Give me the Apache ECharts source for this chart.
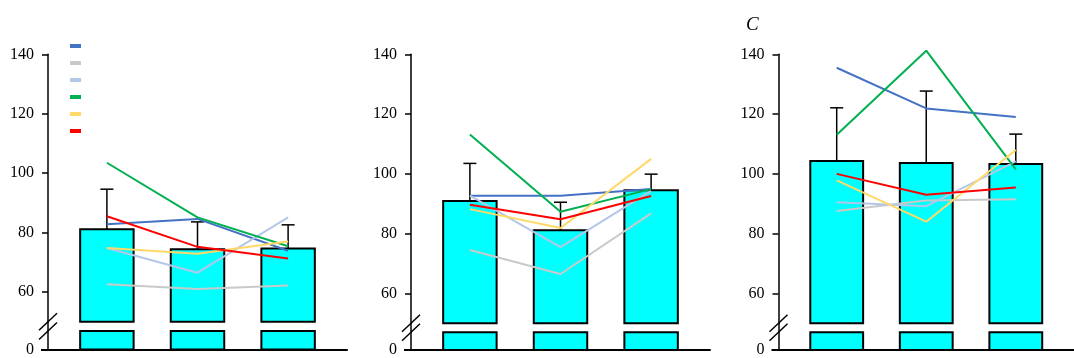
<!DOCTYPE html>
<html>
<head>
<meta charset="utf-8">
<script src="https://cdn.jsdelivr.net/npm/echarts@6/dist/echarts.min.js"></script>
<style>
  html, body { margin: 0; padding: 0; background: #fff; }
  #chart { width: 1074px; height: 358px; }
</style>
</head>
<body>
<div id="chart"></div>
<script>
// Tick labels: upper part of the broken axis, and the stub below the break
const upperTicks = [60, 80, 100, 120, 140];
const lowerTicks = [0];

// Three conditions per panel, placed at x = 0, 1, 2
const conditions = [0, 1, 2];

// Group means and SD (error bars), panels A, B, C
const meanA = [81.1, 74.4, 74.6];
const sdA   = [13.5, 9.2, 8.0];
const meanB = [90.9, 81.1, 94.5];
const sdB   = [12.6, 9.4, 5.4];
const meanC = [104.3, 103.6, 103.3];
const sdC   = [17.8, 24.1, 10.0];

// Individual subjects, one row per subject
const subjectNames  = ['S1', 'S2', 'S3', 'S4', 'S5', 'S6'];
const subjectColors = ['#4472C4', '#C9C9C9', '#B4C7E7', '#00B050', '#FFD966', '#FF0000'];
const subjectsA = [
  [82.8, 84.6, 73.9],
  [62.6, 61.0, 62.2],
  [74.8, 66.5, 85.1],
  [103.5, 85.1, 75.4],
  [74.8, 72.9, 77.0],
  [85.5, 75.2, 71.3]
];
const subjectsB = [
  [92.7, 92.7, 94.9],
  [74.5, 66.5, 86.8],
  [92.7, 75.5, 94.3],
  [113.2, 87.3, 94.9],
  [88.2, 81.9, 105.0],
  [89.7, 84.8, 92.6]
];
const subjectsC = [
  [135.5, 121.9, 119.0],
  [87.6, 91.1, 91.5],
  [90.5, 89.2, 104.2],
  [113.1, 141.2, 101.5],
  [97.8, 84.0, 108.0],
  [100.0, 93.0, 95.4]
];

// Axis break: upper part runs 50..140, the stub below runs 0..3 with bars to 2
const UPPER_MIN = 50, UPPER_MAX = 140;
const LOWER_MAX = 3, STUB = 2;
const X_MIN = -0.65, X_MAX = 2.65;
const BAR_W = 0.59;

const panels = [
  { mean: meanA, sd: sdA, subjects: subjectsA, left: 48,    top: 54.3, upperH: 267.4, lowerH: 27.8 },
  { mean: meanB, sd: sdB, subjects: subjectsB, left: 411,   top: 54.3, upperH: 269,   lowerH: 28.4 },
  { mean: meanC, sd: sdC, subjects: subjectsC, left: 778.5, top: 54.3, upperH: 269,   lowerH: 28.4 }
];
const PANEL_W = 299;

const FONT = 'Liberation Serif, Times New Roman, serif';
const INK = '#000';

const grid = [], xAxis = [], yAxis = [], series = [];

panels.forEach((p, k) => {
  const gu = 2 * k, gl = 2 * k + 1;
  grid.push({ left: p.left, width: PANEL_W, top: p.top, height: p.upperH });
  grid.push({ left: p.left, width: PANEL_W, top: p.top + p.upperH, height: p.lowerH });

  xAxis.push({ gridIndex: gu, type: 'value', min: X_MIN, max: X_MAX, show: false });
  xAxis.push({
    gridIndex: gl, type: 'value', min: X_MIN, max: X_MAX,
    axisLine: { show: true, onZero: false, lineStyle: { color: INK, width: 2 } },
    axisTick: { show: false }, axisLabel: { show: false }, splitLine: { show: false }
  });

  yAxis.push({
    gridIndex: gu, type: 'value', min: UPPER_MIN, max: UPPER_MAX,
    axisLine: { show: true, onZero: false, lineStyle: { color: INK, width: 1.5 } },
    axisTick: { show: true, length: 6, customValues: upperTicks, lineStyle: { color: INK, width: 1.5 } },
    axisLabel: { customValues: upperTicks, color: INK, fontFamily: FONT, fontSize: 16, margin: 14 },
    splitLine: { show: false }
  });
  yAxis.push({
    gridIndex: gl, type: 'value', min: 0, max: LOWER_MAX,
    axisLine: { show: true, onZero: false, lineStyle: { color: INK, width: 1.5 } },
    axisTick: { show: true, length: 7, customValues: lowerTicks, lineStyle: { color: INK, width: 2 } },
    axisLabel: { customValues: lowerTicks, color: INK, fontFamily: FONT, fontSize: 16, margin: 14 },
    splitLine: { show: false }
  });

  // Upper bar segments, from the break (50) to the mean
  series.push({
    type: 'custom', xAxisIndex: gu, yAxisIndex: gu, z: 2,
    data: conditions.map((c, i) => [c, p.mean[i]]),
    renderItem: (params, api) => {
      const x = api.value(0), v = api.value(1);
      const a = api.coord([x - BAR_W / 2, v]);
      const b = api.coord([x + BAR_W / 2, UPPER_MIN]);
      return {
        type: 'rect',
        shape: { x: a[0], y: a[1], width: b[0] - a[0], height: b[1] - a[1] },
        style: { fill: '#00FFFF', stroke: INK, lineWidth: 2 }
      };
    }
  });

  // Stub segments below the break
  series.push({
    type: 'custom', xAxisIndex: gl, yAxisIndex: gl, z: 2,
    data: conditions.map(c => [c, STUB]),
    renderItem: (params, api) => {
      const x = api.value(0), v = api.value(1);
      const a = api.coord([x - BAR_W / 2, v]);
      const b = api.coord([x + BAR_W / 2, 0]);
      return {
        type: 'rect',
        shape: { x: a[0], y: a[1], width: b[0] - a[0], height: b[1] - a[1] },
        style: { fill: '#00FFFF', stroke: INK, lineWidth: 2 }
      };
    }
  });

  // Upward SD whiskers with caps
  series.push({
    type: 'custom', xAxisIndex: gu, yAxisIndex: gu, z: 3,
    data: conditions.map((c, i) => [c, p.mean[i], p.sd[i]]),
    renderItem: (params, api) => {
      const x = api.value(0), m = api.value(1), s = api.value(2);
      const lo = api.coord([x, m]);
      const hi = api.coord([x, m + s]);
      const st = { stroke: INK, lineWidth: 1.5 };
      return {
        type: 'group',
        children: [
          { type: 'line', shape: { x1: lo[0], y1: lo[1], x2: hi[0], y2: hi[1] }, style: st },
          { type: 'line', shape: { x1: hi[0] - 6.5, y1: hi[1], x2: hi[0] + 6.5, y2: hi[1] }, style: st }
        ]
      };
    }
  });

  // Individual subject lines
  p.subjects.forEach((row, j) => {
    series.push({
      type: 'line', name: subjectNames[j], xAxisIndex: gu, yAxisIndex: gu, z: 4,
      clip: false, symbol: 'none', silent: true,
      color: subjectColors[j],
      itemStyle: { color: subjectColors[j] },
      lineStyle: { color: subjectColors[j], width: 2 },
      data: conditions.map((c, i) => [c, row[i]])
    });
  });
});

const chart = echarts.init(document.getElementById('chart'), null, { renderer: 'canvas' });
chart.setOption({
  animation: false,
  backgroundColor: '#fff',
  title: {
    text: 'C', left: 741, top: 10,
    textStyle: { fontFamily: FONT, fontStyle: 'italic', fontWeight: 'normal', fontSize: 19, color: INK }
  },
  legend: {
    data: subjectNames, orient: 'vertical', left: 65, top: 39,
    icon: 'rect', itemWidth: 11, itemHeight: 4, itemGap: 13,
    selectedMode: false, formatter: () => '', textStyle: { fontSize: 1 }
  },
  grid, xAxis, yAxis, series
});

// Double-slash break marks on each y axis, at the bottom of the upper part and the top of the stub
const marks = [];
panels.forEach((p, k) => {
  const up = chart.convertToPixel({ xAxisIndex: 2 * k, yAxisIndex: 2 * k }, [X_MIN, UPPER_MIN]);
  const lo = chart.convertToPixel({ xAxisIndex: 2 * k + 1, yAxisIndex: 2 * k + 1 }, [X_MIN, STUB]);
  [up, lo].forEach(pt => {
    marks.push({
      type: 'line', z: 10,
      shape: { x1: pt[0] - 9, y1: pt[1] + 8.5, x2: pt[0] + 9, y2: pt[1] - 8.5 },
      style: { stroke: INK, lineWidth: 1.5 }
    });
  });
});
chart.setOption({ graphic: marks });
</script>
</body>
</html>
